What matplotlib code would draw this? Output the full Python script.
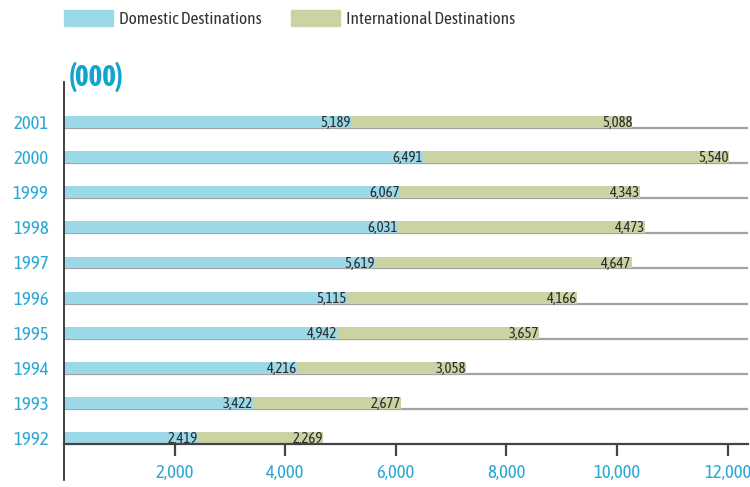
import matplotlib
matplotlib.use("Agg")
import matplotlib.pyplot as plt
from matplotlib.patches import Patch

# data (thousands of trips)
years = [1992, 1993, 1994, 1995, 1996, 1997, 1998, 1999, 2000, 2001]
domestic = [2419, 3422, 4216, 4942, 5115, 5619, 6031, 6067, 6491, 5189]
international = [2269, 2677, 3058, 3657, 4166, 4647, 4473, 4343, 5540, 5088]
xticks = [2000, 4000, 6000, 8000, 10000, 12000]

plt.rcParams['font.family'] = ['Asap Condensed', 'Archivo Narrow', 'DejaVu Sans']

blue = "#9bd8e8"
green = "#cbd3a3"
label_blue = "#2aa8d3"
text_dark = "#2b2b2b"

W, H = 750, 487
fig = plt.figure(figsize=(W / 100, H / 100), dpi=100)
ax = fig.add_axes([64 / W, (H - 444) / H, (748 - 64) / W, (444 - 82) / H])

bar_h = 0.34
pos = list(range(len(years)))
ax.barh(pos, domestic, height=bar_h, color=blue, zorder=2)
ax.barh(pos, international, left=domestic, height=bar_h, color=green, zorder=2)

# baseline under each bar
ax.hlines([p - bar_h / 2 for p in pos[1:]], 0, 12370, color="#a3a3a3", lw=1.6, zorder=1)

for p, d, i in zip(pos, domestic, international):
    ax.text(d, p - 0.03, f"{d:,}", ha="right", va="center", fontsize=10.5, color=text_dark, zorder=3)
    ax.text(d + i, p - 0.03, f"{i:,}", ha="right", va="center", fontsize=10.5, color=text_dark, zorder=3)

ax.set_xlim(0, 12370)
ax.set_ylim(-bar_h / 2, 10.14)
ax.set_xticks(xticks)
ax.set_xticklabels([f"{v:,}" for v in xticks])
ax.set_yticks(pos)
ax.set_yticklabels([str(y) for y in years])
ax.tick_params(axis="x", direction="out", length=8.5, width=1.6, color="#444444",
               labelsize=13.5, labelcolor=label_blue, pad=6)
ax.tick_params(axis="y", length=0, labelsize=13.5, labelcolor=label_blue, pad=11)

for s in ["top", "right"]:
    ax.spines[s].set_visible(False)
ax.spines["bottom"].set_color("#444444")
ax.spines["bottom"].set_linewidth(1.6)
ax.spines["left"].set_color("#222222")
ax.spines["left"].set_linewidth(1.2)
# left axis line runs on below the baseline
ax.plot([0, 0], [0, -(480 - 444) / (444 - 82)], transform=ax.transAxes,
        color="#222222", lw=1.2, clip_on=False)

fig.text(69 / W, 1 - 86 / H, "(000)", fontsize=21, fontweight="bold",
         color="#12a5cc", ha="left", va="baseline")

handles = [Patch(color=blue, label="Domestic Destinations"),
           Patch(color=green, label="International Destinations")]
fig.legend(handles=handles, loc="upper left", bbox_to_anchor=(64 / W, 1 - 10 / H),
           ncol=2, frameon=False, fontsize=12.5, handlelength=2.85, handleheight=1.0,
           handletextpad=0.3, columnspacing=1.7, borderpad=0, borderaxespad=0,
           labelcolor="#333333")

fig.savefig("out.png", dpi=100)
